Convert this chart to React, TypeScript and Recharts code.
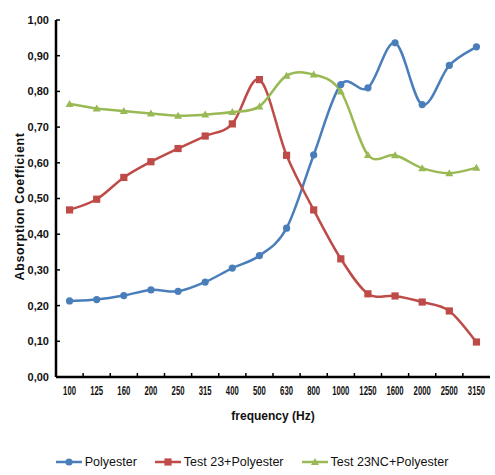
import React from 'react';
import { LineChart, Line, XAxis, YAxis, Legend } from 'recharts';

const freqs = ['100', '125', '160', '200', '250', '315', '400', '500', '630', '800', '1000', '1250', '1600', '2000', '2500', '3150'];
const polyester = [0.213, 0.217, 0.228, 0.244, 0.240, 0.266, 0.305, 0.340, 0.417, 0.622, 0.819, 0.810, 0.936, 0.763, 0.873, 0.925];
const test23 = [0.468, 0.498, 0.559, 0.603, 0.640, 0.675, 0.709, 0.833, 0.621, 0.468, 0.331, 0.233, 0.227, 0.210, 0.185, 0.098];
const test23nc = [0.765, 0.752, 0.745, 0.738, 0.732, 0.735, 0.742, 0.758, 0.844, 0.847, 0.800, 0.622, 0.621, 0.585, 0.571, 0.586];
const yTicks = [0, 0.1, 0.2, 0.3, 0.4, 0.5, 0.6, 0.7, 0.8, 0.9, 1];

const data = freqs.map((f, i) => ({ freq: f, poly: polyester[i], t23: test23[i], t23nc: test23nc[i] }));

const BLUE = '#4a7ebb';
const RED = '#be4b48';
const GREEN = '#98b954';
const SANS = "'Liberation Sans', Arial, sans-serif";

// excel-like smoothed line (catmull-rom as bezier)
const excelSmooth = (context: any) => {
  let pts: number[][] = [];
  return {
    areaStart() {},
    areaEnd() {},
    lineStart() { pts = []; },
    point(x: number, y: number) { pts.push([+x, +y]); },
    lineEnd() {
      if (!pts.length) return;
      context.moveTo(pts[0][0], pts[0][1]);
      for (let i = 0; i < pts.length - 1; i++) {
        const p0 = pts[i - 1] || pts[i];
        const p1 = pts[i];
        const p2 = pts[i + 1];
        const p3 = pts[i + 2] || p2;
        context.bezierCurveTo(
          p1[0] + (p2[0] - p0[0]) / 6, p1[1] + (p2[1] - p0[1]) / 6,
          p2[0] - (p3[0] - p1[0]) / 6, p2[1] - (p3[1] - p1[1]) / 6,
          p2[0], p2[1]
        );
      }
    },
  };
};

const marker = (key: string, cx: number, cy: number, k?: any) => {
  if (key === 'poly') return <circle key={k} cx={cx} cy={cy} r={3.6} fill={BLUE} />;
  if (key === 't23') return <rect key={k} x={cx - 3.6} y={cy - 3.6} width={7.2} height={7.2} fill={RED} />;
  return <path key={k} d={`M${cx},${cy - 4} L${cx + 4},${cy + 3} L${cx - 4},${cy + 3} Z`} fill={GREEN} />;
};

const FreqTick = (props: any) => {
  const { x, y, payload } = props;
  const half = payload && payload.offset ? payload.offset : 0;
  const label = String(payload.value);
  return (
    <g>
      <line x1={x - half} x2={x - half} y1={y - 4} y2={y} stroke="#000" strokeWidth={1.5} />
      <text x={x} y={y + 18} textAnchor="middle" fontSize={12} fontWeight="bold" fontFamily={SANS} fill="#111"
        textLength={label.length * 4.3} lengthAdjust="spacingAndGlyphs">
        {label}
      </text>
    </g>
  );
};

const YTitle = (props: any) => {
  const vb = props.viewBox;
  const cx = vb.x + 20;
  const cy = vb.y + vb.height / 2 + 8;
  return (
    <text x={cx} y={cy} transform={`rotate(-90, ${cx}, ${cy})`} textAnchor="middle" dominantBaseline="central"
      fontSize={12.5} fontWeight="bold" fontFamily={SANS} letterSpacing={0.6} fill="#111">
      Absorption Coefficient
    </text>
  );
};

const LegendContent = (props: any) => {
  const items = props.payload || [];
  return (
    <div style={{ display: 'flex', justifyContent: 'center', gap: 18, fontFamily: SANS, fontSize: 12.5, color: '#111', paddingLeft: 14 }}>
      {items.map((it: any) => (
        <span key={it.dataKey} style={{ display: 'flex', alignItems: 'center', gap: 3 }}>
          <svg width={26} height={10}>
            <line x1={0} x2={26} y1={5} y2={5} stroke={it.color} strokeWidth={2.5} />
            {marker(it.dataKey, 13, 5)}
          </svg>
          <span>{it.value}</span>
        </span>
      ))}
    </div>
  );
};

export default function App() {
  return (
    <div style={{ position: 'absolute', left: 0, top: 0, background: '#fff' }}>
      <LineChart width={495} height={475} data={data} margin={{ top: 20, right: 5, left: 0, bottom: 2 }}>
        <XAxis xAxisId="top" dataKey="freq" orientation="top" height={0} tick={false} tickLine={false}
          axisLine={{ stroke: '#000', strokeWidth: 2 }} />
        <YAxis yAxisId="right" orientation="right" width={0} tick={false} tickLine={false}
          axisLine={{ stroke: '#000', strokeWidth: 2 }} />
        <XAxis dataKey="freq" scale="band" height={78} tick={<FreqTick />} tickLine={false} tickSize={0} tickMargin={0}
          interval={0} axisLine={{ stroke: '#000', strokeWidth: 2.5 }}
          label={{ value: 'frequency (Hz)', position: 'insideTop', offset: 34, fontSize: 12, fontWeight: 'bold', fontFamily: SANS, fill: '#111' }} />
        <YAxis domain={[0, 1]} ticks={yTicks} width={56} tickSize={-4} tickMargin={11}
          tickFormatter={(v: number) => v.toFixed(2).replace('.', ',')}
          tick={{ fontSize: 11, fontWeight: 'bold', fontFamily: SANS, fill: '#111' }}
          tickLine={{ stroke: '#000', strokeWidth: 1.5 }} axisLine={{ stroke: '#000', strokeWidth: 2.5 }}
          label={<YTitle />} />
        <Legend verticalAlign="bottom" height={18} content={<LegendContent />} />
        <Line dataKey="poly" name="Polyester" stroke={BLUE} strokeWidth={2.5} type={excelSmooth as any}
          dot={(p: any) => marker('poly', p.cx, p.cy, p.index)} activeDot={false} isAnimationActive={false} />
        <Line dataKey="t23" name="Test 23+Polyester" stroke={RED} strokeWidth={2.5} type={excelSmooth as any}
          dot={(p: any) => marker('t23', p.cx, p.cy, p.index)} activeDot={false} isAnimationActive={false} />
        <Line dataKey="t23nc" name="Test 23NC+Polyester" stroke={GREEN} strokeWidth={2.5} type={excelSmooth as any}
          dot={(p: any) => marker('t23nc', p.cx, p.cy, p.index)} activeDot={false} isAnimationActive={false} />
      </LineChart>
    </div>
  );
}
